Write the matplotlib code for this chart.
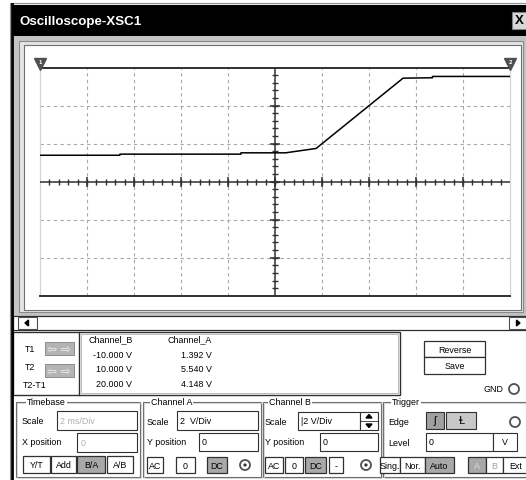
import matplotlib.pyplot as plt
import numpy as np
from matplotlib.patches import Rectangle, Circle, Polygon

# trace data (B/A mode: x = Channel B, y = Channel A)
chan_b = [-10.0, -6.6, -6.6, -1.45, -1.45, 0.45, 1.75, 5.45, 6.7, 6.7, 10.0]
chan_a = [1.392, 1.392, 1.45, 1.45, 1.52, 1.52, 1.75, 5.45, 5.47, 5.54, 5.54]

# cursor readouts
cursor_b = [-10.0, 10.0]
cursor_a = [1.392, 5.540]
row_names = ['T1', 'T2', 'T2-T1']

volts_per_div = 2
x_divs, y_divs = 10, 6

FONT = ['Liberation Sans', 'DejaVu Sans']
W, H = 526, 481

fig = plt.figure(figsize=(W / 100, H / 100), dpi=100)
bg = fig.add_axes([0, 0, 1, 1])
bg.set_xlim(0, W)
bg.set_ylim(H, 0)
bg.axis('off')


def box(x0, y0, x1, y1, fc='white', ec='#404040', lw=0.8, z=1):
    bg.add_patch(Rectangle((x0, y0), x1 - x0, y1 - y0, fc=fc, ec=ec, lw=lw, zorder=z))


def label(x, y, s, ha='left', color='black', size=6.4, weight='normal', **kw):
    bg.text(x, y, s, ha=ha, va='center', color=color, fontsize=size,
            family=FONT, fontweight=weight, zorder=5, **kw)


def button(x0, y0, x1, y1, s, pressed=False, color='black'):
    box(x0, y0, x1, y1, fc='#a8a8a8' if pressed else 'white', ec='#303030', lw=0.9, z=3)
    label((x0 + x1) / 2, (y0 + y1) / 2 + 0.5, s, ha='center', color=color)


def group(x0, y0, x1, y1, title, tx):
    bg.add_patch(Rectangle((x0, y0), x1 - x0, y1 - y0, fill=False, ec='#707070', lw=0.8, zorder=2))
    bg.add_patch(Rectangle((x0 + 1, y0 + 1), x1 - x0, y1 - y0, fill=False, ec='#d0d0d0', lw=0.6, zorder=2))
    label(tx, y0, title, bbox=dict(fc='white', ec='none', pad=0.6))


def radio(x, y, dot=False):
    bg.add_patch(Circle((x, y), 5, fc='white', ec='#505050', lw=1.3, zorder=3))
    if dot:
        bg.add_patch(Circle((x, y), 1.6, fc='#303030', ec='none', zorder=4))


# window frame and title bar
box(10, 4, W + 2, H + 2, fc='white', ec='#909090', lw=0.8, z=0)
bg.plot([11.5, 11.5], [5, H], color='black', lw=2.0, zorder=6)
box(12, 6, W + 2, 37, fc='black', ec='black', z=1)
label(20, 21.5, 'Oscilloscope-XSC1', color='white', size=9.6, weight='bold')
box(512, 13, W + 2, 30, fc='#d8d8d8', ec='#808080', z=2)
label(519, 21.5, 'X', ha='center', size=9.5, weight='bold')

# grey frame round the screen
box(13, 37, W + 2, 317, fc='#c4c4c4', ec='none', z=1)
box(19, 42, 523, 313, fc='#e4e4e4', ec='#8a8a8a', lw=0.8, z=1)
box(24, 46, 521, 311, fc='white', ec='#707070', lw=0.8, z=1)

# scroll bar
box(13, 317, W + 2, 331, fc='white', ec='#303030', lw=0.9, z=2)
box(18, 318, 37, 330, fc='white', ec='#505050', lw=0.8, z=3)
box(509, 318, W + 2, 330, fc='white', ec='#505050', lw=0.8, z=3)
bg.add_patch(Polygon([[25, 324], [28.5, 321], [28.5, 327]], color='black', zorder=4))
bg.add_patch(Polygon([[520, 324], [516.5, 321], [516.5, 327]], color='black', zorder=4))

# cursor readout panel
box(13, 333, 400, 396, fc='white', ec='#303030', lw=1.0, z=2)
bg.plot([79, 79], [333, 396], color='#303030', lw=1.0, zorder=3)
box(81, 335, 398, 394, fc='white', ec='#b0b0b0', lw=0.6, z=3)
label(25, 350, row_names[0])
label(25, 368, row_names[1])
label(23, 386, row_names[2])
for yb in (343, 365):
    box(45, yb, 74, yb + 13, fc='#b4b4b4', ec='#808080', lw=0.6, z=3)
    label(52, yb + 6.5, '\u21e6', ha='center', color='#eef4ec', size=8.5)
    label(66, yb + 6.5, '\u21e8', ha='center', color='#eef4ec', size=8.5)

label(111, 340, 'Channel_B', ha='center')
label(190, 340, 'Channel_A', ha='center')
rows_b = cursor_b + [cursor_b[1] - cursor_b[0]]
rows_a = cursor_a + [cursor_a[1] - cursor_a[0]]
for i, yy in enumerate([356, 370, 385]):
    label(132, yy, f'{rows_b[i]:.3f} V', ha='right')
    label(212, yy, f'{rows_a[i]:.3f} V', ha='right')

button(424, 342, 485, 358, 'Reverse')
button(424, 358, 485, 375, 'Save')
label(503, 390, 'GND', ha='right')
radio(514, 390)

# timebase
group(16, 403, 140, 478, 'Timebase', 27)
label(22, 422, 'Scale')
box(57, 412, 137, 431, ec='#303030', z=3)
label(60, 422, '2 ms/Div', color='#b0b0b0')
label(22, 443, 'X position')
box(77, 434, 137, 453, ec='#303030', z=3)
label(81, 444, '0', color='#b0b0b0')
button(23, 457, 50, 474, 'Y/T')
button(51, 457, 76, 474, 'Add')
button(77, 457, 105, 474, 'B/A', pressed=True)
button(107, 457, 133, 474, 'A/B')

# channel A
group(143, 403, 261, 478, 'Channel A', 151)
label(147, 423, 'Scale')
box(177, 412, 258, 431, ec='#303030', z=3)
label(180, 422, f'{volts_per_div}  V/Div')
label(147, 443, 'Y position')
box(199, 434, 258, 452, ec='#303030', z=3)
label(202, 443, '0')
button(147, 458, 163, 474, 'AC')
button(176, 458, 195, 474, '0')
button(207, 458, 227, 474, 'DC', pressed=True)
radio(245, 466, dot=True)

# channel B
group(263, 403, 381, 478, 'Channel B', 269)
label(265, 423, 'Scale')
box(298, 413, 360, 431, ec='#303030', z=3)
label(301, 422, f'|{volts_per_div} V/Div')
box(360, 413, 378, 431, fc='white', ec='#303030', z=3)
bg.plot([360, 378], [422, 422], color='#303030', lw=0.6, zorder=4)
bg.add_patch(Polygon([[369, 415.5], [366, 419], [372, 419]], color='black', zorder=4))
bg.add_patch(Polygon([[369, 428.5], [366, 425], [372, 425]], color='black', zorder=4))
label(265, 443, 'Y position')
box(320, 434, 378, 452, ec='#303030', z=3)
label(323, 443, '0')
button(265, 458, 283, 474, 'AC')
button(285, 458, 303, 474, '0')
button(305, 458, 326, 474, 'DC', pressed=True)
button(329, 458, 343, 474, '-')
radio(366, 466, dot=True)

# trigger
group(383, 403, W + 5, 478, 'Trigger', 392)
label(388, 423, 'Edge')
box(426, 413, 444, 430, fc='#a0a0a0', ec='#303030', z=3)
label(435, 421.5, '\u0283', ha='center', size=8)
box(446, 413, 476, 430, fc='#c8c8c8', ec='#303030', z=3)
label(461, 421.5, '\u2c62', ha='center', size=8)
radio(515, 423)
label(388, 444, 'Level')
box(426, 434, 493, 452, ec='#303030', z=3)
label(429, 443, '0')
box(493, 434, 517, 452, ec='#303030', z=3)
label(505, 443, 'V', ha='center')
button(380, 458, 400, 474, 'Sing.')
button(400, 458, 425, 474, 'Nor.')
button(425, 458, 454, 474, 'Auto', pressed=True)
button(468, 458, 486, 474, 'A', pressed=True, color='#e0e0e0')
button(486, 458, 503, 474, 'B', color='#a0a0a0')
button(503, 458, W + 3, 474, 'Ext')

# scope screen
xmax = x_divs / 2 * volts_per_div
ymax = y_divs / 2 * volts_per_div
ax = fig.add_axes([40 / W, (H - 296.7) / H, 470 / W, 228 / H])
ax.set_xlim(-xmax, xmax)
ax.set_ylim(-ymax, ymax)
ax.set_facecolor('none')
for s in ax.spines.values():
    s.set_visible(False)
ax.set_xticks([])
ax.set_yticks([])

grid_kw = dict(color='#a8a8a8', lw=0.8, dashes=(3, 3), zorder=1)
for gx in np.arange(-xmax + volts_per_div, xmax, volts_per_div):
    if gx != 0:
        ax.axvline(gx, **grid_kw)
for gy in np.arange(-ymax + volts_per_div, ymax, volts_per_div):
    if gy != 0:
        ax.axhline(gy, **grid_kw)

ax.axhline(ymax, color='#303030', lw=1.4, clip_on=False, zorder=2)
ax.axhline(-ymax, color='#303030', lw=1.4, clip_on=False, zorder=2)
ax.axhline(0, color='#303030', lw=1.1, zorder=2)
ax.axvline(0, color='#303030', lw=1.1, zorder=2)

minor_x = np.arange(-xmax, xmax + 0.01, volts_per_div / 5)
major_x = np.arange(-xmax, xmax + 0.01, volts_per_div)
minor_y = np.arange(-ymax, ymax + 0.01, volts_per_div / 5)
major_y = np.arange(-ymax, ymax + 0.01, volts_per_div)
ax.plot(minor_x[1:-1], np.zeros(len(minor_x) - 2), ls='none', marker='|', ms=4.5, mew=1.0, color='#303030', zorder=3)
ax.plot(major_x[1:-1], np.zeros(len(major_x) - 2), ls='none', marker='|', ms=7, mew=1.1, color='#303030', zorder=3)
ax.plot(np.zeros(len(minor_y) - 2), minor_y[1:-1], ls='none', marker='_', ms=5, mew=1.0, color='#303030', zorder=3)
ax.plot(np.zeros(len(major_y) - 2), major_y[1:-1], ls='none', marker='_', ms=7, mew=1.1, color='#303030', zorder=3)

# cursor lines and flags
for i, cb in enumerate(cursor_b):
    ax.axvline(cb, color='#d4d4d4', lw=0.9, clip_on=False, zorder=1)
    ax.plot([cb], [ymax + 0.2], marker='v', ms=9, color='#505050', clip_on=False, zorder=4)
    ax.text(cb, ymax + 0.3, str(i + 1), ha='center', va='center', fontsize=3.5,
            color='white', fontweight='bold', clip_on=False, zorder=5)

ax.plot(chan_b, chan_a, color='black', lw=1.1, zorder=5)

fig.savefig('out.png', dpi=100)
